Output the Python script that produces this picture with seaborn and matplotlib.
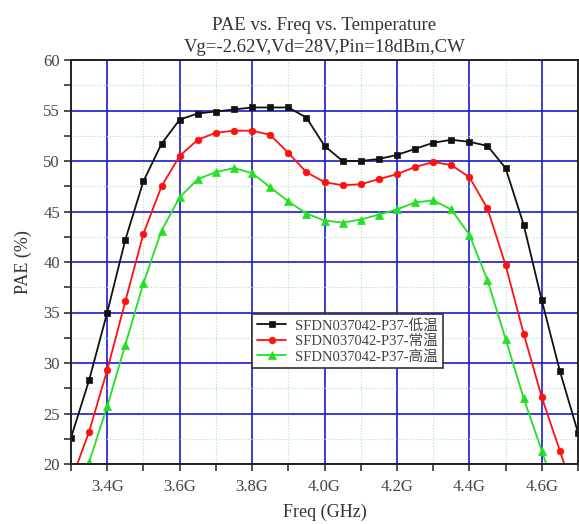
#!/usr/bin/env python3
"""PAE vs frequency at three temperatures."""

import matplotlib
matplotlib.use("Agg")
import matplotlib.pyplot as plt
from matplotlib.ticker import MultipleLocator, FixedLocator
import pandas as pd
import seaborn as sns

freq = [3.30, 3.35, 3.40, 3.45, 3.50, 3.55, 3.60, 3.65, 3.70, 3.75,
        3.80, 3.85, 3.90, 3.95, 4.00, 4.05, 4.10, 4.15, 4.20, 4.25,
        4.30, 4.35, 4.40, 4.45, 4.50, 4.55, 4.60, 4.65, 4.70]

pae_low = [22.6, 28.3, 35.0, 42.2, 48.0, 51.7, 54.1, 54.7, 54.9, 55.1,
           55.3, 55.3, 55.3, 54.3, 51.5, 50.0, 50.0, 50.2, 50.6, 51.2,
           51.8, 52.1, 51.9, 51.5, 49.3, 43.7, 36.2, 29.2, 23.1]
pae_room = [18.3, 23.2, 29.3, 36.1, 42.8, 47.5, 50.5, 52.1, 52.8, 53.0,
            53.0, 52.6, 50.8, 48.9, 47.9, 47.6, 47.7, 48.2, 48.7, 49.4,
            49.9, 49.6, 48.4, 45.3, 39.7, 32.9, 26.6, 21.3, 16.0]
pae_high = [15.0, 20.2, 25.7, 31.8, 37.9, 43.1, 46.4, 48.2, 48.9, 49.3,
            48.8, 47.4, 46.0, 44.8, 44.1, 43.9, 44.2, 44.7, 45.2, 45.9,
            46.1, 45.2, 42.7, 38.2, 32.4, 26.5, 21.3, 16.0, 10.5]

series = ["SFDN037042-P37-低温", "SFDN037042-P37-常温", "SFDN037042-P37-高温"]
colors = ["#111111", "#FF1010", "#22E022"]
markers = ["s", "o", "^"]
msizes = [4.3, 4.8, 5.2]

xticks = [3.4, 3.6, 3.8, 4.0, 4.2, 4.4, 4.6]
xticklabels = ["3.4G", "3.6G", "3.8G", "4.0G", "4.2G", "4.4G", "4.6G"]

df = pd.DataFrame({"freq": freq * 3,
                   "pae": pae_low + pae_room + pae_high,
                   "curve": [s for s in series for _ in freq]})

sns.set_style("white")
plt.rcParams["font.family"] = ["Liberation Serif", "Noto Sans CJK SC", "DejaVu Sans"]
TXT = "#333333"

fig = plt.figure(figsize=(5.79, 5.24), dpi=100)
ax = fig.add_axes([71 / 579, 60 / 524, 507 / 579, 404 / 524])

for name, c, m, ms in zip(series, colors, markers, msizes):
    sns.lineplot(data=df[df["curve"] == name], x="freq", y="pae", ax=ax,
                 color=c, marker=m, markersize=ms, markeredgecolor=c,
                 markeredgewidth=0.5, linewidth=1.3, label=name)

ax.set_xlim(3.3, 4.7)
ax.set_ylim(20, 60)
ax.set_xticks(xticks, xticklabels)
ax.xaxis.set_minor_locator(FixedLocator([3.3, 3.5, 3.7, 3.9, 4.1, 4.3, 4.5, 4.7]))
ax.yaxis.set_major_locator(MultipleLocator(5))
ax.yaxis.set_minor_locator(MultipleLocator(2.5))

ax.grid(which="major", color="#1A1ACC", linewidth=1.2)
ax.grid(which="minor", color="#A8E8A8", linewidth=0.8, linestyle=":")
ax.set_axisbelow(True)

for s in ax.spines.values():
    s.set_color("#222222")
    s.set_linewidth(1.4)

ax.tick_params(which="both", direction="out", length=5, width=1.1,
               color="#222222", labelsize=12, labelcolor="#444444",
               bottom=True, left=True)
ax.tick_params(axis="x", which="both", pad=6)
ax.tick_params(axis="y", which="both", pad=3)

ax.set_xlabel("Freq (GHz)", fontsize=13, color=TXT, labelpad=6)
ax.set_ylabel("PAE (%)", fontsize=13, color=TXT, labelpad=8)
ax.set_title("PAE vs. Freq vs. Temperature\nVg=-2.62V,Vd=28V,Pin=18dBm,CW",
             fontsize=13.5, color=TXT, pad=6, linespacing=1.35)

leg = ax.legend(loc="upper left", bbox_to_anchor=(0.343, 0.39), fontsize=10.5,
                frameon=True, fancybox=False, framealpha=1, handlelength=2.0,
                borderpad=0.35, labelspacing=0.12, handletextpad=0.6,
                borderaxespad=0.5)
leg.get_frame().set_edgecolor("#333333")
leg.get_frame().set_facecolor("white")
leg.get_frame().set_linewidth(1.2)
for t in leg.get_texts():
    t.set_color("#444444")

fig.savefig("out.png", dpi=100, facecolor="white")
